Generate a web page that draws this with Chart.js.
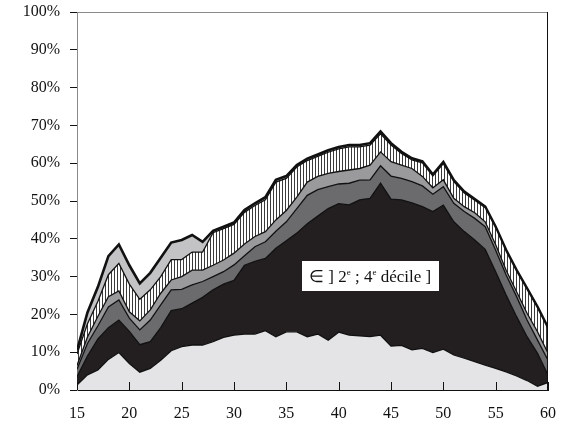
<!DOCTYPE html>
<html>
<head>
<meta charset="utf-8">
<script src="https://cdn.jsdelivr.net/npm/chart.js@4/dist/chart.umd.min.js"></script>
<style>
  html, body { margin: 0; padding: 0; background: #fff; }
  #wrap { width: 561px; height: 434px; }
</style>
</head>
<body>
<div id="wrap"><canvas id="chart" width="561" height="434"></canvas></div>
<script>
// ages on the x axis
const ages = [15, 16, 17, 18, 19, 20, 21, 22, 23, 24, 25, 26, 27, 28, 29, 30,
  31, 32, 33, 34, 35, 36, 37, 38, 39, 40, 41, 42, 43, 44, 45,
  46, 47, 48, 49, 50, 51, 52, 53, 54, 55, 56, 57, 58, 59, 60];

// cumulative upper bounds of each band (%), bottom to top
const band1 = [1.3, 4, 5.3, 8.1, 9.9, 7, 4.7, 5.7, 7.9, 10.4, 11.5, 11.9, 11.9, 12.8, 13.9, 14.5,
  14.8, 14.8, 15.7, 14.1, 15.4, 15.4, 14.1, 14.8, 13.2, 15.3, 14.5, 14.3, 14.1, 14.5, 11.6,
  11.8, 10.6, 11, 9.9, 10.8, 9.3, 8.4, 7.5, 6.6, 5.7, 4.8, 3.7, 2.5, 1, 2];
const band2 = [3.5, 9, 13.5, 16.5, 18.5, 15.5, 12, 12.8, 16.5, 21, 21.5, 23, 24.5, 26.5, 28, 29,
  33, 34, 34.8, 37.5, 39.5, 41.5, 44, 46, 48, 49.3, 49, 50.3, 50.7, 54.7, 50.5,
  50.3, 49.5, 48.5, 47.2, 48.9, 44.5, 41.9, 39.7, 37.2, 31.3, 25.1, 19.4, 14.1, 9.7, 4];
const band3 = [5.5, 12.3, 17, 22, 23.8, 19, 15.9, 18.5, 22.5, 26.5, 26.6, 27.8, 28.7, 30, 31.3, 33.1,
  35.5, 37.9, 39.2, 42, 44.5, 48, 51.5, 53, 53.8, 54.5, 54.7, 55.5, 55.6, 59.3, 56.6,
  56, 55.1, 54, 51.8, 53.8, 49.4, 47.2, 45.4, 43.2, 37, 30.4, 24.7, 18.5, 13.2, 7.9];
const band4 = [6.5, 14, 19.5, 24.7, 26.2, 20.7, 18.3, 21.2, 25.6, 29.1, 30, 31.7, 31.7, 33, 34.4, 36.2,
  38.6, 40.6, 41.9, 45, 47.5, 51, 55, 56.5, 57.3, 57.8, 58.2, 58.6, 59.5, 63, 60.4,
  59.5, 58.6, 56.5, 53.5, 55.6, 50.7, 48.5, 46.9, 44.5, 38.4, 31.7, 26, 20.3, 15.4, 9.7];
const band5 = [9.5, 17.5, 23.5, 30.5, 33.5, 28, 24, 26.5, 30, 34.5, 34.5, 36.5, 36.5, 41.6, 42.7, 43.8,
  47, 48.8, 50.3, 55, 56, 59, 60.7, 61.8, 62.9, 63.8, 64.3, 64.3, 64.8, 67.8, 64.8,
  62.6, 60.9, 60.1, 56.6, 59.9, 55.1, 52.1, 50.2, 48.2, 42.9, 36.7, 31.4, 26.6, 21.7, 16.2];
const band6 = [10.5, 20.5, 27.3, 35.4, 38.5, 33, 28.2, 31, 35, 39, 39.7, 41, 39.2, 42.1, 43.2, 44.3,
  47.6, 49.4, 51, 55.6, 56.6, 59.5, 61.2, 62.3, 63.4, 64.3, 64.8, 64.8, 65.3, 68.4, 65.3,
  63, 61.3, 60.5, 57, 60.3, 55.5, 52.5, 50.5, 48.5, 43.2, 37, 31.7, 26.9, 22, 16.5];

const yTicks = [0, 10, 20, 30, 40, 50, 60, 70, 80, 90, 100];
const xTicks = [15, 20, 25, 30, 35, 40, 45, 50, 55, 60];

// label inside the black band
const noteAge = 43;
const notePct = 30.2;

const serif = "'Liberation Serif', 'Times New Roman', serif";

// vertical hatching
function hatch() {
  const c = document.createElement("canvas");
  c.width = 3;
  c.height = 6;
  const g = c.getContext("2d");
  g.fillStyle = "#ffffff";
  g.fillRect(0, 0, 3, 6);
  g.fillStyle = "#3a3a3a";
  g.fillRect(0, 0, 1, 6);
  return g.createPattern(c, "repeat");
}

const pts = (arr) => ages.map((a, i) => ({ x: a, y: arr[i] }));

function band(arr, fillColor, fill, width) {
  return {
    data: pts(arr),
    backgroundColor: fillColor,
    borderColor: "#111111",
    borderWidth: width || 1.3,
    fill: fill,
    pointRadius: 0,
    tension: 0
  };
}

// frame, inward x ticks and the text box
const extras = {
  id: "extras",
  afterDraw(chart) {
    const { ctx, chartArea: a, scales } = chart;
    const x = scales.x, y = scales.y;
    ctx.save();
    ctx.lineWidth = 1;
    ctx.strokeStyle = "#8a8a8a";
    ctx.beginPath();
    ctx.moveTo(a.left, a.top + 0.5);
    ctx.lineTo(a.right, a.top + 0.5);
    ctx.stroke();
    ctx.strokeStyle = "#111";
    ctx.beginPath();
    ctx.moveTo(a.right - 0.5, a.top);
    ctx.lineTo(a.right - 0.5, a.bottom);
    ctx.stroke();
    xTicks.forEach((t) => {
      const px = Math.round(x.getPixelForValue(t)) + 0.5;
      ctx.beginPath();
      ctx.moveTo(px, a.bottom);
      ctx.lineTo(px, a.bottom - 8);
      ctx.stroke();
    });

    // note box
    const cx = x.getPixelForValue(noteAge);
    const cy = y.getPixelForValue(notePct);
    const parts = [
      ["\u2208 ] 2", false], ["e", true], [" ; 4", false], ["e", true], [" d\u00e9cile ]", false]
    ];
    const big = "17px " + serif, small = "9px " + serif;
    let w = 0;
    parts.forEach(([s, sup]) => {
      ctx.font = sup ? small : big;
      w += ctx.measureText(s).width;
    });
    ctx.fillStyle = "#fff";
    ctx.fillRect(Math.round(cx - 68), Math.round(cy - 15), 137, 30);
    ctx.fillStyle = "#111";
    ctx.textBaseline = "alphabetic";
    let tx = cx - w / 2;
    parts.forEach(([s, sup]) => {
      ctx.font = sup ? small : big;
      ctx.fillText(s, tx, sup ? cy - 1 : cy + 6);
      tx += ctx.measureText(s).width;
    });
    ctx.restore();
  }
};

new Chart(document.getElementById("chart"), {
  type: "line",
  data: {
    datasets: [
      band(band1, "#e4e4e6", "origin"),
      band(band2, "#231f20", "-1"),
      band(band3, "#6b6b6e", "-1"),
      band(band4, "#9a9a9d", "-1"),
      band(band5, hatch(), "-1"),
      band(band6, "#c3c3c6", "-1", 2.6)
    ]
  },
  options: {
    responsive: false,
    animation: false,
    layout: { padding: { top: 12, right: 13, left: 0, bottom: 0 } },
    plugins: { legend: { display: false }, tooltip: { enabled: false } },
    scales: {
      x: {
        type: "linear",
        min: 15,
        max: 60,
        afterBuildTicks: (s) => { s.ticks = xTicks.map((v) => ({ value: v })); },
        afterFit: (s) => { s.height = 44; s.paddingLeft = 0; s.paddingRight = 0; },
        grid: { display: false, tickLength: 0 },
        border: { display: true, color: "#111", width: 1 },
        ticks: { color: "#111", padding: 14, maxRotation: 0, font: { family: serif, size: 16 } }
      },
      y: {
        min: 0,
        max: 100,
        afterBuildTicks: (s) => { s.ticks = yTicks.map((v) => ({ value: v })); },
        afterFit: (s) => { s.width = 77; s.paddingTop = 0; s.paddingBottom = 0; },
        grid: { drawOnChartArea: false, tickLength: 7, color: "#111" },
        border: { display: true, color: "#8a8a8a", width: 1 },
        ticks: { color: "#111", padding: 10, font: { family: serif, size: 16 }, callback: (v) => v + "%" }
      }
    }
  },
  plugins: [extras]
});
</script>
</body>
</html>
